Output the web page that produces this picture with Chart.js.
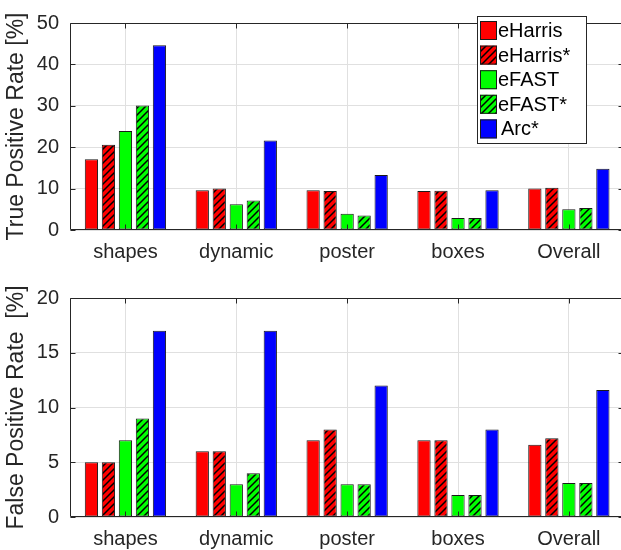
<!DOCTYPE html>
<html>
<head>
<meta charset="utf-8">
<script src="https://cdn.jsdelivr.net/npm/chart.js@4"></script>
<style>
  html, body { margin: 0; padding: 0; background: #fff; overflow: hidden; }
  .panel { position: relative; width: 626px; height: 275px; }
</style>
</head>
<body>
<div class="panel"><canvas id="tprChart" width="626" height="275"></canvas></div>
<div class="panel"><canvas id="fprChart" width="626" height="275"></canvas></div>
<script>
// data
const categories = ["shapes", "dynamic", "poster", "boxes", "Overall"];
const seriesNames = ["eHarris", "eHarris*", "eFAST", "eFAST*", "Arc*"];

const tprEHarris = [17.1, 9.6, 9.6, 9.4, 10.0];
const tprEHarrisStar = [20.6, 10.0, 9.4, 9.5, 10.2];
const tprEFast = [23.9, 6.2, 3.9, 2.9, 5.0];
const tprEFastStar = [30.1, 7.1, 3.5, 2.9, 5.3];
const tprArc = [44.6, 21.6, 13.3, 9.6, 14.8];

const fprEHarris = [5, 6, 7, 7, 6.6];
const fprEHarrisStar = [5, 6, 8, 7, 7.2];
const fprEFast = [7, 3, 3, 2, 3.1];
const fprEFastStar = [9, 4, 3, 2, 3.1];
const fprArc = [17, 17, 12, 8, 11.6];

const tprTicks = [0, 10, 20, 30, 40, 50];
const fprTicks = [0, 5, 10, 15, 20];

const FONT = "'Liberation Sans', Arial, Helvetica, sans-serif";
const TEXT = "#262626";
const GRID = "#e0e0e0";

// diagonal hatch pattern for the starred series
function hatch(color) {
  const s = 7;
  const c = document.createElement("canvas");
  c.width = s;
  c.height = s;
  const g = c.getContext("2d");
  g.fillStyle = color;
  g.fillRect(0, 0, s, s);
  g.strokeStyle = "#000";
  g.lineWidth = 1.5;
  g.beginPath();
  g.moveTo(-1, s + 1);
  g.lineTo(s + 1, -1);
  g.moveTo(-1, 1);
  g.lineTo(1, -1);
  g.moveTo(s - 1, s + 1);
  g.lineTo(s + 1, s - 1);
  g.stroke();
  return g.createPattern(c, "repeat");
}

const fills = ["#ff0000", hatch("#ff0000"), "#00ff00", hatch("#00ff00"), "#0000ff"];

function makeDatasets(values) {
  return values.map((v, i) => ({
    label: seriesNames[i],
    data: v,
    backgroundColor: fills[i],
    borderColor: "#1a1a1a",
    borderWidth: 1,
    borderSkipped: false,
    categoryPercentage: 0.767,
    barPercentage: 0.78,
  }));
}

// box round the plot with inward ticks, like the original
const frame = {
  id: "frame",
  afterDatasetsDraw(chart) {
    const { ctx, chartArea: a, scales } = chart;
    const L = Math.round(a.left) + 0.5;
    const R = Math.round(a.right) - 0.5;
    const T = Math.round(a.top) + 0.5;
    const B = Math.round(a.bottom) - 0.5;
    const len = 5;
    ctx.save();
    ctx.strokeStyle = TEXT;
    ctx.lineWidth = 1;
    ctx.beginPath();
    ctx.rect(L, T, R - L, B - T);
    categories.forEach((_, i) => {
      const px = Math.round(scales.x.getPixelForValue(i)) + 0.5;
      ctx.moveTo(px, B);
      ctx.lineTo(px, B - len);
      ctx.moveTo(px, T);
      ctx.lineTo(px, T + len);
    });
    scales.y.ticks.forEach((t) => {
      const py = Math.round(scales.y.getPixelForValue(t.value)) + 0.5;
      ctx.moveTo(L, py);
      ctx.lineTo(L + len, py);
      ctx.moveTo(R, py);
      ctx.lineTo(R - len, py);
    });
    ctx.stroke();
    ctx.restore();
  },
};

// legend box inside the top panel
const boxLegend = {
  id: "boxLegend",
  afterDraw(chart, args, opts) {
    if (!opts.show) return;
    const { ctx } = chart;
    ctx.save();
    ctx.fillStyle = "#fff";
    ctx.fillRect(opts.x, opts.y, opts.w, opts.h);
    ctx.strokeStyle = TEXT;
    ctx.lineWidth = 1;
    ctx.strokeRect(opts.x + 0.5, opts.y + 0.5, opts.w, opts.h);
    ctx.font = "20px " + FONT;
    ctx.textBaseline = "middle";
    ctx.textAlign = "left";
    chart.data.datasets.forEach((ds, i) => {
      const sx = opts.x + 3;
      const sy = opts.y + 5 + i * 24.6;
      ctx.fillStyle = ds.backgroundColor;
      ctx.fillRect(sx, sy, 17, 19);
      ctx.strokeStyle = "#1a1a1a";
      ctx.strokeRect(sx + 0.5, sy + 0.5, 16, 18);
      ctx.fillStyle = "#000";
      ctx.fillText(ds.label, sx + 18 + (i === 4 ? 3 : 0), sy + 10.5);
    });
    ctx.restore();
  },
};

function makeChart(id, values, ticks, title, pad, xHeight, legend) {
  const maxV = ticks[ticks.length - 1];
  return new Chart(document.getElementById(id), {
    type: "bar",
    data: { labels: categories, datasets: makeDatasets(values) },
    plugins: [frame, boxLegend],
    options: {
      responsive: false,
      animation: false,
      devicePixelRatio: 1,
      layout: { padding: { top: pad, right: 1.7, left: 0, bottom: 0 } },
      plugins: {
        legend: { display: false },
        tooltip: { enabled: false },
        boxLegend: legend,
      },
      scales: {
        x: {
          grid: { offset: false, color: GRID, drawTicks: false },
          border: { display: false },
          ticks: { color: TEXT, font: { family: FONT, size: 20 }, padding: 10 },
          afterFit: (s) => { s.height = xHeight; },
        },
        y: {
          min: 0,
          max: maxV,
          grid: { color: GRID, drawTicks: false },
          border: { display: false },
          afterBuildTicks: (s) => { s.ticks = ticks.map((v) => ({ value: v })); },
          ticks: { color: TEXT, font: { family: FONT, size: 20 }, padding: 11 },
          title: {
            display: true,
            text: title,
            color: TEXT,
            font: { family: FONT, size: 23 },
            padding: { top: 3, bottom: 0 },
          },
          afterFit: (s) => { s.width = 70; },
        },
      },
    },
  });
}

makeChart(
  "tprChart",
  [tprEHarris, tprEHarrisStar, tprEFast, tprEFastStar, tprArc],
  tprTicks,
  "True Positive Rate [%]",
  8.3,
  45,
  { show: true, x: 477, y: 16, w: 109, h: 127 }
);

makeChart(
  "fprChart",
  [fprEHarris, fprEHarrisStar, fprEFast, fprEFastStar, fprArc],
  fprTicks,
  "False Positive Rate  [%]",
  18.3,
  33,
  { show: false }
);
</script>
</body>
</html>
